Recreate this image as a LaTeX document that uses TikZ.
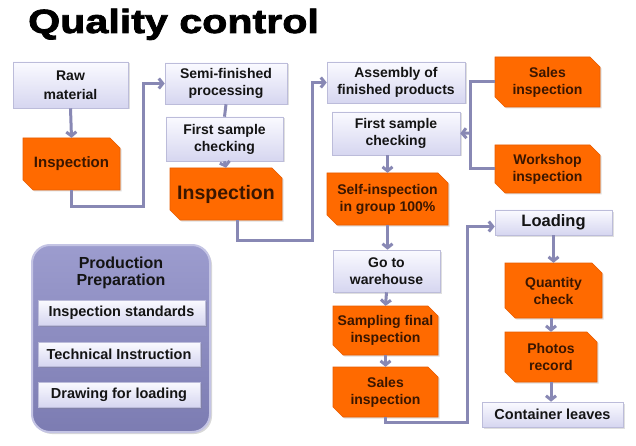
\documentclass[tikz,border=0pt]{standalone}
\usepackage{fontspec}
\setmainfont{Liberation Sans}
\newfontfamily\titlefont[BoldFeatures={FakeBold=2.4,FakeStretch=1.23}]{Liberation Sans}
\usetikzlibrary{arrows.meta,shadows}
\definecolor{lavtop}{HTML}{FAFAFF}
\definecolor{lavbot}{HTML}{D6D6F0}
\definecolor{lavedge}{HTML}{BCBCDA}
\definecolor{orng}{HTML}{FF6A00}
\definecolor{orngedge}{HTML}{E85C00}
\definecolor{cline}{HTML}{8888B4}
\definecolor{otext}{HTML}{3A1600}
\definecolor{ltext}{HTML}{141414}
\definecolor{ptop}{HTML}{9C9CCE}
\definecolor{pbot}{HTML}{7C7CB2}
\definecolor{pedge}{HTML}{C4C4E4}
\tikzset{
  bf/.style={font=\bfseries\fontsize{#1}{17}\selectfont},
  lbox/.style={draw=lavedge, line width=0.6pt, top color=lavtop, bottom color=lavbot,
    align=center, inner sep=1pt, text=ltext, bf=14,
    drop shadow={shadow xshift=1.5pt, shadow yshift=-1.5pt, opacity=0.25}},
  otxt/.style={align=center, inner sep=1pt, text=otext, bf=14},
  oshape/.style={fill=orng, draw=orngedge, line width=0.6pt,
    drop shadow={shadow xshift=1.5pt, shadow yshift=-1.5pt, opacity=0.25}},
  link/.style={draw=cline, line width=3pt},
  arr/.style={link, -{Straight Barb[length=4pt,width=10pt]}},
  pbox/.style={draw=pedge, line width=2pt, rounded corners=18pt, top color=ptop, bottom color=pbot,
    drop shadow={shadow xshift=2pt, shadow yshift=-2pt, opacity=0.3}},
}
\newcommand\orbox[6]{%
  \filldraw[oshape] ({#2-#4/2},{#3-#5/2}) -- ({#2+#4/2-10},{#3-#5/2}) -- ({#2+#4/2},{#3-#5/2+10})
    -- ({#2+#4/2},{#3+#5/2}) -- ({#2-#4/2+10},{#3+#5/2}) -- ({#2-#4/2},{#3+#5/2-10}) -- cycle;
  \node[otxt, minimum width=#4pt, minimum height=#5pt] (#1) at (#2,#3) {#6};
}
\begin{document}
\begin{tikzpicture}[x=1pt,y=-1pt]
\useasboundingbox[fill=white] (0,0) rectangle (636,446);
% title
\node[anchor=base west, inner sep=0] (title) at (28,33) {\titlefont\bfseries\fontsize{33.5}{36}\selectfont Quality control};

% lavender boxes
\node[lbox, minimum width=115pt, minimum height=46pt] (raw) at (70.5,85) {Raw\\[2pt]material};
\node[lbox, minimum width=122pt, minimum height=41pt] (semi) at (226,83.5) {Semi-finished\\processing};
\node[lbox, minimum width=117pt, minimum height=44pt] (fsc1) at (224.5,139) {First sample\\checking};
\node[lbox, minimum width=138pt, minimum height=41pt] (assembly) at (396,82.5) {Assembly of\\finished products};
\node[lbox, minimum width=128pt, minimum height=43pt] (fsc2) at (396,133.5) {First sample\\checking};
\node[lbox, minimum width=107pt, minimum height=42pt] (warehouse) at (386.5,271) {Go to\\warehouse};
\node[lbox, minimum width=117pt, minimum height=25pt, bf=16.5] (loading) at (553.5,222.5) {Loading};
\node[lbox, minimum width=141pt, minimum height=25pt, bf=14.5] (container) at (552.5,414.5) {Container leaves};

% orange boxes
\orbox{insp1}{71.5}{164}{97}{52}{\fontsize{15}{17}\selectfont Inspection}
\orbox{insp2}{226}{194}{112}{52}{\fontsize{19.5}{22}\selectfont Inspection}
\orbox{self}{387.5}{199}{121}{52}{Self-inspection\\in group 100\%}
\orbox{sales1}{547.5}{82}{105}{50}{Sales\\inspection}
\orbox{workshop}{547.5}{169}{105}{48}{Workshop\\inspection}
\orbox{sampling}{385.5}{330.5}{105}{49}{Sampling final\\inspection}
\orbox{sales2}{385.5}{392}{105}{50}{Sales\\inspection}
\orbox{quantity}{553.5}{290.5}{97}{55}{Quantity\\check}
\orbox{photos}{551}{357}{92}{50}{Photos\\record}

% production preparation
\node[pbox, minimum width=178pt, minimum height=187pt] (prep) at (121,338.5) {};
\node[align=center, text=ltext, bf=16, inner sep=0] (ptitle) at (121,273) {Production\\Preparation};
\node[lbox, minimum width=167pt, minimum height=25pt, bf=14.5] (std) at (121.5,312.5) {Inspection standards};
\node[lbox, minimum width=162pt, minimum height=24pt, bf=14.5] (tech) at (119,354) {Technical Instruction};
\node[lbox, minimum width=162pt, minimum height=25pt, bf=14.5] (draw) at (119,394.5) {Drawing for loading};

% connectors
\coordinate (c1) at (143,207);
\coordinate (c2) at (312,240);
\coordinate (c3) at (467,422);
\coordinate (j) at (470,133);
\draw[arr] (raw.south) -- (insp1.north);
\draw[arr] (insp1.south) |- (c1) |- (semi.west);
\draw[link] (semi.south) -- (fsc1.north);
\draw[arr] (fsc1.south) -- (insp2.north);
\draw[arr] ([xshift=11pt]insp2.south) |- (c2) |- (assembly.west);
\draw[link] (sales1.west) -| (j) |- (workshop.west);
\draw[arr] (j) -- (fsc2.east);
\draw[arr] (fsc2.south -| self.north) -- (self.north);
\draw[arr] (self.south) -- (self.south |- warehouse.north);
\draw[arr] (warehouse.south) -- (sampling.north);
\draw[arr] (sampling.south) -- (sales2.north);
\draw[arr] (sales2.south) |- (c3) |- ([yshift=-4pt]loading.west);
\draw[arr] (loading.south) -- (loading.south |- quantity.north);
\draw[arr] (quantity.south -| photos.north) -- (photos.north);
\draw[arr] (photos.south) -- (photos.south |- container.north);
\end{tikzpicture}
\end{document}
